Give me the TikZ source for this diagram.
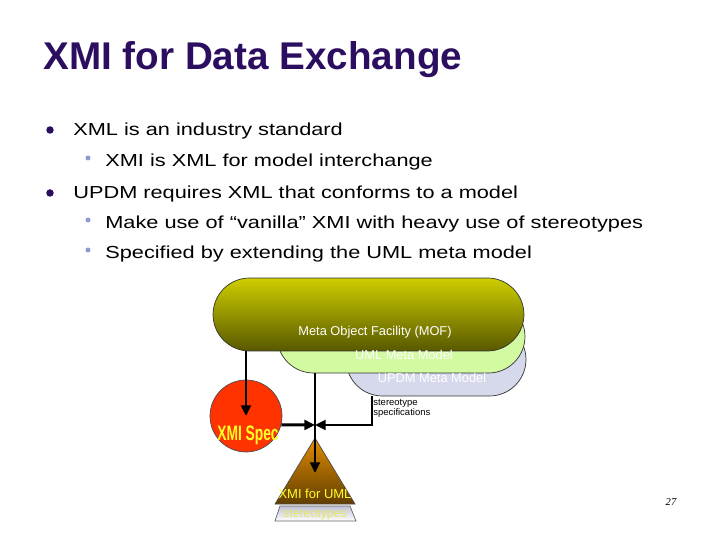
\documentclass[tikz,border=0pt]{standalone}
\usepackage{fontspec}
\setmainfont{Liberation Sans}
\newfontfamily\bodyfont[FakeStretch=1.25]{Liberation Sans}
\newfontfamily\specfont[FakeStretch=0.66]{Liberation Sans Bold}
\newfontfamily\pagefont{Liberation Serif}
\usetikzlibrary{shapes.misc,arrows.meta}
\definecolor{titlepurple}{RGB}{44,14,96}
\definecolor{subdot}{RGB}{140,156,208}
\definecolor{mofupper}{RGB}{206,206,0}
\definecolor{moflower}{RGB}{88,88,0}
\definecolor{umlgreen}{RGB}{210,250,160}
\definecolor{updmlav}{RGB}{214,216,236}
\definecolor{specred}{RGB}{255,51,0}
\definecolor{specyellow}{RGB}{255,255,40}
\definecolor{triupper}{RGB}{225,140,0}
\definecolor{trilower}{RGB}{96,62,0}
\definecolor{stereoyellow}{RGB}{228,228,96}
\begin{document}
\begin{tikzpicture}[x=0.02cm,y=-0.02cm,
    bullettext/.style={anchor=base west,inner sep=0pt,font=\bodyfont\fontsize{9.9}{12}\selectfont},
    maindot/.style={circle,fill=titlepurple,inner sep=0pt,minimum size=0.15cm},
    subdotnode/.style={circle,fill=subdot,inner sep=0pt,minimum size=0.1cm},
    modelbox/.style={rounded rectangle,draw=black!80,line width=0.4pt,inner sep=0pt,minimum height=1.46cm},
    modeltext/.style={anchor=base,inner sep=0pt,text=white,font=\fontsize{7.3}{9}\selectfont},
    flow/.style={line width=1.7pt,-{Triangle[length=6pt,width=5.5pt]}}]
    \useasboundingbox (0,0) rectangle (720,540);
    % title and bullets
    \node[anchor=base west,inner sep=0pt,text=titlepurple,font=\bfseries\fontsize{22}{26}\selectfont] (title) at (43,70) {XMI for Data Exchange};
    \node[maindot] (dot1) at (50,130) {};
    \node[bullettext] (line1) at (73,136) {XML is an industry standard};
    \node[subdotnode] (dot2) at (88,158) {};
    \node[bullettext] (line2) at (105,167) {XMI is XML for model interchange};
    \node[maindot] (dot3) at (50,193) {};
    \node[bullettext] (line3) at (73,199) {UPDM requires XML that conforms to a model};
    \node[subdotnode] (dot4) at (88,220) {};
    \node[bullettext] (line4) at (105,229) {Make use of “vanilla” XMI with heavy use of stereotypes};
    \node[subdotnode] (dot5) at (88,250) {};
    \node[bullettext] (line5) at (105,259) {Specified by extending the UML meta model};
    % stacked meta models
    \node[modelbox,fill=updmlav,minimum width=3.6cm] (updm) at (436,359.5) {};
    \node[modelbox,fill=umlgreen,minimum width=4.96cm] (uml) at (401,336.5) {};
    \node[modelbox,top color=mofupper,bottom color=moflower,minimum width=6.22cm] (mof) at (368.5,314.5) {};
    \node[modeltext] (moftext) at (375,336) {Meta Object Facility (MOF)};
    \node[modeltext] (umltext) at (404,359) {UML Meta Model};
    \node[modeltext] (updmtext) at (432,382) {UPDM Meta Model};
    % xmi spec and xmi for uml
    \node[circle,fill=specred,draw=black!70,line width=0.4pt,inner sep=0pt,minimum size=1.44cm] (xmispec) at (246,416) {};
    \node[anchor=base,inner sep=0pt,text=specyellow,font=\specfont\fontsize{11.9}{14}\selectfont] (spectext) at (248,440) {XMI Spec};
    \coordinate (apex) at (315,438);
    \coordinate (baseleft) at (275,504);
    \coordinate (baseright) at (355,504);
    \shade[top color=triupper,bottom color=trilower,draw=black!70,line width=0.4pt] (apex) -- (baseright) -- (baseleft) -- cycle;
    \shade[top color=updmlav!90!black,bottom color=white,draw=black!60,line width=0.4pt] (280,506) -- (350,506) -- (356,521) -- (275,521) -- cycle;
    \node[anchor=base,inner sep=0pt,text=specyellow,font=\fontsize{7.4}{9}\selectfont] (umltri) at (315,498) {XMI for UML};
    \node[anchor=base,inner sep=0pt,text=stereoyellow,font=\fontsize{7}{9}\selectfont] (stereo) at (315,517) {stereotypes};
    \node[anchor=north west,inner sep=0pt,align=left,font=\fontsize{5.4}{5.8}\selectfont] (stereospec) at (373,399) {stereotype\\specifications};
    \node[anchor=base,inner sep=0pt,font=\pagefont\itshape\fontsize{6}{7}\selectfont] (pagenum) at (671,505) {27};
    % connectors
    \coordinate (meet) at (315,425);
    \coordinate (trimid) at (315,473);
    \draw[flow] (xmispec |- mof.south) -- (xmispec.center);
    \draw[flow] (trimid |- uml.south) -- (trimid);
    \draw[flow] (xmispec.-14) -- (meet);
    \draw[flow] (372,0 |- updm.south) |- (meet);
\end{tikzpicture}
\end{document}
